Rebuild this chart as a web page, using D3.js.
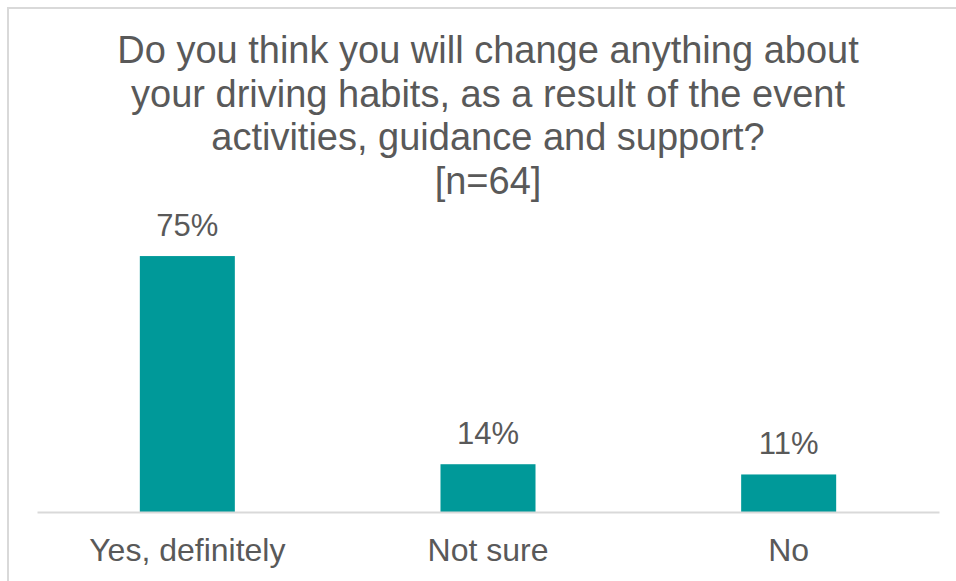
<!DOCTYPE html>
<html>
<head>
<meta charset="utf-8">
<script src="https://cdn.jsdelivr.net/npm/d3@7"></script>
<style>
  html, body { margin: 0; padding: 0; background: #ffffff; }
  svg { display: block; }
  text { font-family: "Liberation Sans", Arial, sans-serif; fill: #595959; }
</style>
</head>
<body>
<svg id="chart" width="956" height="581"></svg>
<script>
// Survey responses
const categories = ["Yes, definitely", "Not sure", "No"];
const shares = [0.75, 0.14, 0.11];
const titleLines = [
  "Do you think you will change anything about",
  "your driving habits, as a result of the event",
  "activities, guidance and support?",
  "[n=64]"
];

const svg = d3.select("#chart");

// Chart frame (only top and left edges fall inside the view)
svg.append("rect")
  .attr("x", 8).attr("y", 8)
  .attr("width", 1200).attr("height", 1200)
  .attr("fill", "none")
  .attr("stroke", "#d9d9d9")
  .attr("stroke-width", 2);

const x = d3.scaleBand()
  .domain(categories)
  .range([37, 939])
  .paddingInner(0.684)
  .paddingOuter(0.342);

const y = d3.scaleLinear()
  .domain([0, 0.8])
  .range([512, 239]);

// Title
const title = svg.append("text")
  .attr("x", 488)
  .attr("y", 63)
  .attr("text-anchor", "middle")
  .style("font-size", "38px");
title.selectAll("tspan")
  .data(titleLines)
  .join("tspan")
  .attr("x", 488)
  .attr("dy", (d, i) => i === 0 ? 0 : 43.5)
  .text(d => d);

// Bars
svg.append("g")
  .selectAll("rect")
  .data(categories)
  .join("rect")
  .attr("x", d => x(d))
  .attr("width", x.bandwidth())
  .attr("y", (d, i) => y(shares[i]))
  .attr("height", (d, i) => y(0) - y(shares[i]))
  .attr("fill", "#009999");

// Value labels
svg.append("g")
  .selectAll("text")
  .data(categories)
  .join("text")
  .attr("x", d => x(d) + x.bandwidth() / 2)
  .attr("y", (d, i) => y(shares[i]) - 20)
  .attr("text-anchor", "middle")
  .style("font-size", "31px")
  .text((d, i) => d3.format(".0%")(shares[i]));

// Category axis
const xAxis = svg.append("g")
  .attr("transform", `translate(0,${y(0)})`)
  .call(d3.axisBottom(x).tickSize(0).tickPadding(0));
xAxis.select(".domain")
  .attr("stroke", "#d9d9d9")
  .attr("stroke-width", 2);
xAxis.selectAll(".tick text")
  .attr("y", 49)
  .attr("dy", 0)
  .style("font-size", "32px")
  .style("font-family", "'Liberation Sans', Arial, sans-serif")
  .attr("fill", "#595959");
</script>
</body>
</html>
